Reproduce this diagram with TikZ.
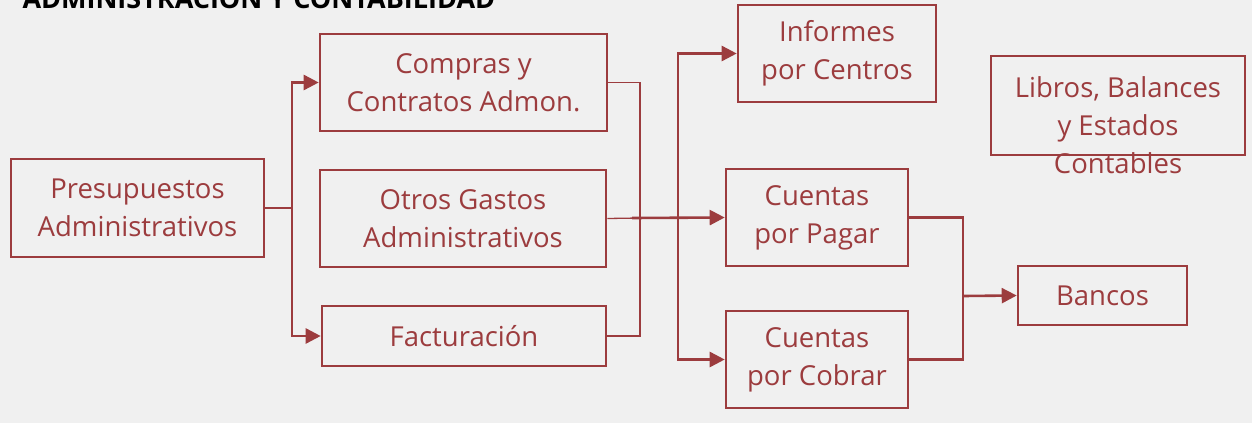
\documentclass[tikz,border=0pt]{standalone}
\usepackage{fontspec}
\setmainfont{Open Sans}
\usetikzlibrary{arrows.meta}
\definecolor{rojo}{RGB}{156,60,62}
\definecolor{fondo}{RGB}{240,240,240}
\tikzset{
  caja/.style={draw=rojo,line width=2.6pt,text=rojo,align=center,
    font=\fontsize{27.5}{38}\selectfont,inner sep=0pt},
  texto/.style={text=rojo,align=center,font=\fontsize{27.5}{38}\selectfont},
  linea/.style={draw=rojo,line width=2.6pt},
  fina/.style={draw=rojo,line width=1.3pt},
  flecha/.style={linea,-{Triangle[length=15pt,width=15pt]}}
}

\begin{document}
\begin{tikzpicture}[x=1pt,y=-1pt]
   \fill[fondo] (0,0) rectangle (1252,423);
   \useasboundingbox (0,0) rectangle (1252,423);
   \node (titulo) at (19,9) [anchor=base west,font=\fontsize{27}{30}\selectfont\bfseries] {ADMINISTRACIÓN Y CONTABILIDAD};
   % cajas
   \node (pres)     at (137.5,208)  [caja,minimum width=253pt,minimum height=98pt] {Presupuestos\\Administrativos};
   \node (compras)  at (463.5,82.5) [caja,minimum width=287pt,minimum height=97pt] {Compras y\\Contratos Admon.};
   \node (gastos)   at (463,218.5)  [caja,minimum width=286pt,minimum height=97pt] {Otros Gastos\\Administrativos};
   \node (fact)     at (464,336)    [caja,minimum width=284pt,minimum height=60pt] {Facturación};
   \node (informes) at (837,53.5)   [caja,minimum width=198pt,minimum height=97pt] {Informes\\por Centros};
   \node (pagar)    at (817,217.5)  [caja,minimum width=182pt,minimum height=97pt] {Cuentas\\por Pagar};
   \node (cobrar)   at (817,359.5)  [caja,minimum width=182pt,minimum height=97pt] {Cuentas\\por Cobrar};
   \node (libros)   at (1118,105.5) [caja,minimum width=254pt,minimum height=99pt] {};
   \node (librostxt) at (1118,125)  [texto] {Libros, Balances\\y Estados\\Contables};
   \node (bancos)   at (1102.5,295.5) [caja,minimum width=169pt,minimum height=59pt] {Bancos};
   % puntos de union
   \coordinate (bifA) at (292,208);
   \coordinate (colA) at (640,218);
   \coordinate (salA) at (632,218);
   \coordinate (colB) at (678,218);
   \coordinate (colC) at (963,296);
   % conectores
   \draw[linea] (pres.east) -- (bifA);
   \draw[flecha] (bifA) |- (compras.west);
   \draw[flecha] (bifA) |- (fact.west);
   \draw[fina] (compras.east) -| (colA) |- (fact.east);
   \draw[fina] (gastos.east) -- (colA);
   \draw[flecha] (salA) -- (pagar.west);
   \draw[flecha] (colB) |- (informes.west);
   \draw[flecha] (colB) |- (cobrar.west);
   \draw[linea] (pagar.east) -| (colC) |- (cobrar.east);
   \draw[flecha] (colC) -- (bancos.west);
\end{tikzpicture}
\end{document}
